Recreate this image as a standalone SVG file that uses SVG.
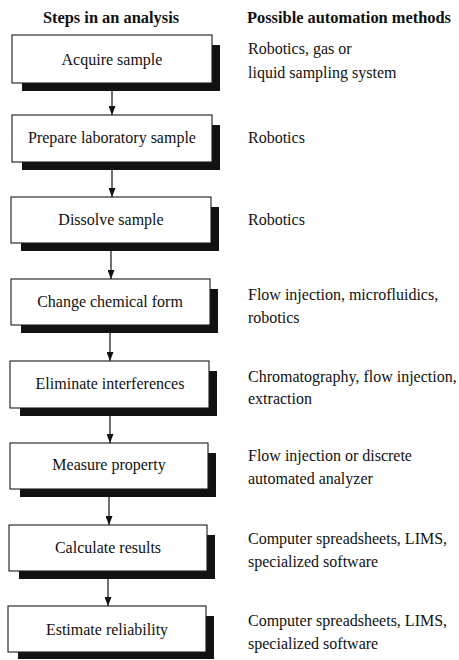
<svg xmlns="http://www.w3.org/2000/svg" width="459" height="660" viewBox="0 0 459 660">
<style>
.box{fill:#fff;stroke:#1a1a1a;stroke-width:1.1}
.sh{fill:#111}
.t{font-family:"Liberation Serif","Times New Roman",serif;font-size:16px;fill:#111}
.c{text-anchor:middle}
.h{font-weight:bold;font-size:16.4px}
.conn line{stroke:#111;stroke-width:1.2}
</style>
<defs>
<marker id="arr" markerUnits="userSpaceOnUse" markerWidth="9" markerHeight="7" refX="9" refY="3.5" orient="auto" viewBox="0 0 9 7">
<path d="M0,0 L9,3.5 L0,7 Z" fill="#111"/>
</marker>
</defs>
<g id="headers">
<text class="t h c" x="111" y="23">Steps in an analysis</text>
<text class="t h" x="247" y="23">Possible automation methods</text>
</g>
<g id="connectors" class="conn">
<line x1="112" y1="91" x2="112" y2="115" marker-end="url(#arr)"/>
<line x1="112" y1="170" x2="112" y2="197" marker-end="url(#arr)"/>
<line x1="111" y1="251" x2="111" y2="279" marker-end="url(#arr)"/>
<line x1="110" y1="333" x2="110" y2="361" marker-end="url(#arr)"/>
<line x1="110" y1="416" x2="110" y2="443" marker-end="url(#arr)"/>
<line x1="109" y1="497" x2="109" y2="525" marker-end="url(#arr)"/>
<line x1="108" y1="579" x2="108" y2="606" marker-end="url(#arr)"/>
</g>
<g id="n1">
<path class="sh" d="M212,45 H220 V91 H22 V83 H212 Z"/>
<rect class="box" x="12" y="35" width="200" height="48"/>
<text class="t c" x="112" y="65">Acquire sample</text>
<text class="t" x="248" y="54">Robotics, gas or</text>
<text class="t" x="248" y="78">liquid sampling system</text>
</g>
<g id="n2">
<path class="sh" d="M212,125 H220 V170 H22 V162 H212 Z"/>
<rect class="box" x="12" y="115" width="200" height="47"/>
<text class="t c" x="112" y="143">Prepare laboratory sample</text>
<text class="t" x="248" y="143">Robotics</text>
</g>
<g id="n3">
<path class="sh" d="M211,207 H219 V251 H21 V243 H211 Z"/>
<rect class="box" x="11" y="197" width="200" height="46"/>
<text class="t c" x="111" y="225">Dissolve sample</text>
<text class="t" x="248" y="225">Robotics</text>
</g>
<g id="n4">
<path class="sh" d="M210,289 H218 V333 H21 V325 H210 Z"/>
<rect class="box" x="11" y="279" width="199" height="46"/>
<text class="t c" x="110" y="307">Change chemical form</text>
<text class="t" x="248" y="300">Flow injection, microfluidics,</text>
<text class="t" x="248" y="323">robotics</text>
</g>
<g id="n5">
<path class="sh" d="M209,371 H217 V416 H20 V408 H209 Z"/>
<rect class="box" x="10" y="361" width="199" height="47"/>
<text class="t c" x="110" y="389">Eliminate interferences</text>
<text class="t" x="248" y="382">Chromatography, flow injection,</text>
<text class="t" x="248" y="404">extraction</text>
</g>
<g id="n6">
<path class="sh" d="M208,453 H216 V497 H20 V489 H208 Z"/>
<rect class="box" x="10" y="443" width="198" height="46"/>
<text class="t c" x="109" y="470">Measure property</text>
<text class="t" x="248" y="461">Flow injection or discrete</text>
<text class="t" x="248" y="484">automated analyzer</text>
</g>
<g id="n7">
<path class="sh" d="M207,535 H215 V579 H19 V571 H207 Z"/>
<rect class="box" x="9" y="525" width="198" height="46"/>
<text class="t c" x="108" y="553">Calculate results</text>
<text class="t" x="248" y="544">Computer spreadsheets, LIMS,</text>
<text class="t" x="248" y="567">specialized software</text>
</g>
<g id="n8">
<path class="sh" d="M206,616 H214 V659 H18 V652 H206 Z"/>
<rect class="box" x="8" y="606" width="198" height="46"/>
<text class="t c" x="107" y="635">Estimate reliability</text>
<text class="t" x="248" y="626">Computer spreadsheets, LIMS,</text>
<text class="t" x="248" y="649">specialized software</text>
</g>
</svg>
